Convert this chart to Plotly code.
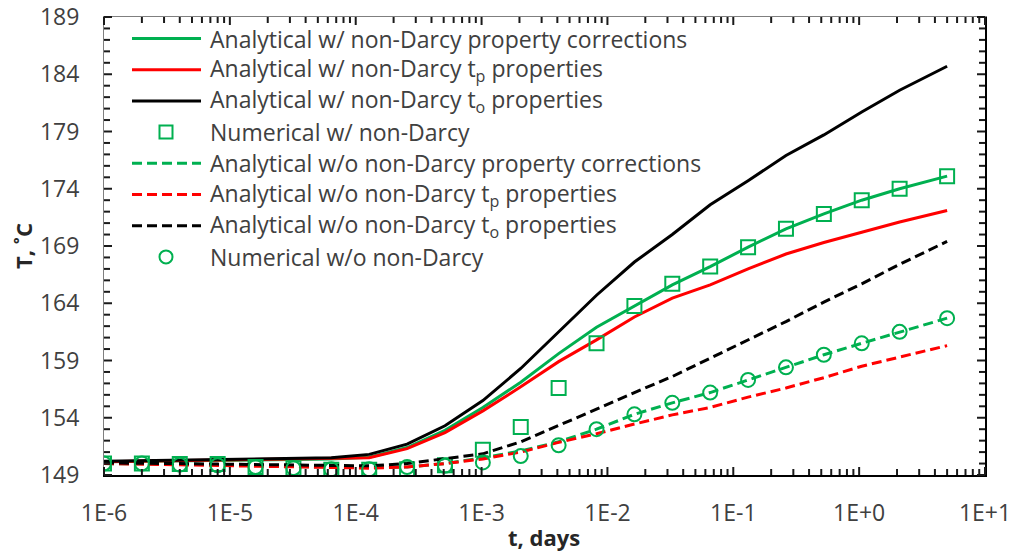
import math
import plotly.graph_objects as go

# Time (days) of each computed point
t_days = [1e-6, 2e-6, 4e-6, 8e-6, 1.6e-5, 3.2e-5, 6.4e-5, 1.28e-4, 2.56e-4, 5.12e-4,
          1.024e-3, 2.048e-3, 4.096e-3, 8.192e-3, 1.6384e-2, 3.2768e-2, 6.5536e-2,
          0.131072, 0.262144, 0.524288, 1.048576, 2.097152, 5.0]

# Temperature (deg C) with non-Darcy flow
T_nd_corr = [150.15, 150.2, 150.2, 150.25, 150.3, 150.35, 150.4, 150.55, 151.4, 152.9,
             154.9, 157.1, 159.6, 161.9, 163.75, 165.6, 167.2, 168.9, 170.5, 171.8,
             173.0, 174.0, 175.1]
T_nd_tp = [150.15, 150.2, 150.2, 150.25, 150.3, 150.35, 150.4, 150.5, 151.3, 152.7,
           154.6, 156.7, 158.9, 160.8, 162.8, 164.45, 165.6, 167.0, 168.3, 169.3,
           170.2, 171.1, 172.1]
T_nd_to = [150.2, 150.25, 150.25, 150.3, 150.35, 150.4, 150.5, 150.8, 151.7, 153.3,
           155.5, 158.3, 161.5, 164.7, 167.6, 170.0, 172.6, 174.7, 176.9, 178.7,
           180.7, 182.6, 184.7]
T_nd_num = [150.0, 150.0, 149.95, 149.95, 149.7, 149.6, 149.45, 149.45, 149.5, 149.85,
            151.2, 153.2, 156.6, 160.5, 163.75, 165.7, 167.2, 168.9, 170.5, 171.8,
            173.0, 174.0, 175.1]

# Temperature (deg C) without non-Darcy flow
T_d_corr = [150.0, 150.0, 149.95, 149.9, 149.8, 149.75, 149.7, 149.65, 149.7, 150.0,
            150.5, 151.1, 151.9, 153.0, 154.3, 155.3, 156.2, 157.3, 158.4, 159.5,
            160.5, 161.5, 162.7]
T_d_tp = [150.0, 149.95, 149.9, 149.85, 149.8, 149.7, 149.65, 149.6, 149.7, 150.0,
          150.4, 151.0, 151.85, 152.6, 153.45, 154.25, 154.9, 155.8, 156.6, 157.5,
          158.5, 159.3, 160.3]
T_d_to = [150.05, 150.05, 150.0, 149.95, 149.9, 149.85, 149.8, 149.8, 150.0, 150.4,
          150.85, 151.9, 153.3, 154.75, 156.2, 157.6, 159.2, 160.8, 162.4, 164.1,
          165.7, 167.4, 169.4]
T_d_num = [150.0, 150.0, 149.9, 149.85, 149.7, 149.6, 149.5, 149.5, 149.7, 149.8,
           150.1, 150.65, 151.6, 153.0, 154.3, 155.3, 156.2, 157.3, 158.4, 159.5,
           160.5, 161.5, 162.7]

x_tickvals = [1e-6, 1e-5, 1e-4, 1e-3, 1e-2, 1e-1, 1e0, 1e1]
x_ticktext = ["1E-6", "1E-5", "1E-4", "1E-3", "1E-2", "1E-1", "1E+0", "1E+1"]
y_tickvals = [149, 154, 159, 164, 169, 174, 179, 184, 189]

X_RANGE_LOG = [-6, 1]
Y_MIN, Y_MAX = 149, 189

GREEN = "#00B050"
RED = "#FF0000"
BLACK = "#000000"
TEXT = "#404040"
DASH = "10px,5px"
FONT = "Open Sans"
CLEAR = "rgba(0,0,0,0)"

series = [
    ("Analytical w/ non-Darcy property corrections", T_nd_corr, GREEN, "solid", None),
    ("Analytical w/ non-Darcy t<sub>p</sub> properties", T_nd_tp, RED, "solid", None),
    ("Analytical w/ non-Darcy t<sub>o</sub> properties", T_nd_to, BLACK, "solid", None),
    ("Numerical w/ non-Darcy", T_nd_num, GREEN, None, "square"),
    ("Analytical w/o non-Darcy property corrections", T_d_corr, GREEN, DASH, None),
    ("Analytical w/o non-Darcy t<sub>p</sub> properties", T_d_tp, RED, DASH, None),
    ("Analytical w/o non-Darcy t<sub>o</sub> properties", T_d_to, BLACK, DASH, None),
    ("Numerical w/o non-Darcy", T_d_num, GREEN, None, "circle"),
]

fig = go.Figure()

for name, y, color, dash, symbol in series:
    if symbol is None:
        fig.add_trace(go.Scatter(x=t_days, y=y, mode="lines", name=name,
                                 line=dict(color=color, width=3, dash=dash)))
    else:
        fig.add_trace(go.Scatter(x=t_days, y=y, mode="markers", name=name,
                                 marker=dict(symbol=symbol + "-open", size=14,
                                             color=color,
                                             line=dict(color=color, width=2))))

# Plot-area edges in pixels
W, H = 1012, 553
plot_l, plot_r, plot_t, plot_b = 104, 985, 17, 475
plot_w, plot_h = plot_r - plot_l, plot_b - plot_t


def px_x(p):
    return (p - plot_l) / plot_w


def px_y(p):
    return (plot_b - p) / plot_h


def log_frac(v):
    """Fraction of the plot width at which a time value sits on the log axis."""
    return (math.log10(v) - X_RANGE_LOG[0]) / (X_RANGE_LOG[1] - X_RANGE_LOG[0])


# Inward tick marks on all four sides of the frame
x_minor = [m * 10.0 ** e for e in range(-6, 1) for m in range(2, 10)]
y_minor = [v for v in range(Y_MIN + 1, Y_MAX) if v not in y_tickvals]
MAJOR, MINOR = 8, 6
TICK = dict(color="#1a1a1a", width=2)

for vals, length in [(x_tickvals, MAJOR), (x_minor, MINOR)]:
    for v in vals:
        xf = log_frac(v)
        fig.add_shape(type="line", xref="paper", yref="paper", x0=xf, x1=xf,
                      y0=0, y1=length / plot_h, line=TICK, layer="above")
        fig.add_shape(type="line", xref="paper", yref="paper", x0=xf, x1=xf,
                      y0=1, y1=1 - length / plot_h, line=TICK, layer="above")
for vals, length in [(y_tickvals, MAJOR), (y_minor, MINOR)]:
    for v in vals:
        yf = (v - Y_MIN) / (Y_MAX - Y_MIN)
        fig.add_shape(type="line", xref="paper", yref="paper", x0=0,
                      x1=length / plot_w, y0=yf, y1=yf, line=TICK, layer="above")
        fig.add_shape(type="line", xref="paper", yref="paper", x0=1,
                      x1=1 - length / plot_w, y0=yf, y1=yf, line=TICK, layer="above")

# Legend block in the upper-left corner, drawn as paper-space shapes and text
half = 6.5  # marker half-size in pixels
for i, (name, y, color, dash, symbol) in enumerate(series):
    row_px = 38.5 + 31.2 * i
    row = px_y(row_px)
    if symbol is None:
        fig.add_shape(type="line", xref="paper", yref="paper",
                      x0=px_x(132), x1=px_x(201), y0=row, y1=row,
                      line=dict(color=color, width=3, dash=dash))
    else:
        fig.add_shape(type="rect" if symbol == "square" else "circle",
                      xref="paper", yref="paper",
                      x0=px_x(166 - half), x1=px_x(166 + half),
                      y0=px_y(row_px + half), y1=px_y(row_px - half),
                      line=dict(color=color, width=2))
    fig.add_annotation(text=name, xref="paper", yref="paper", x=px_x(208), y=row,
                       xanchor="left", yanchor="middle", showarrow=False,
                       font=dict(family=FONT, size=23, color=TEXT))

# Axis titles
title_font = dict(family=FONT, size=22, color="#262626")
fig.add_annotation(text="<b>t, days</b>", xref="paper", yref="paper",
                   x=px_x(544), y=px_y(537), xanchor="center", yanchor="middle",
                   showarrow=False, font=title_font)
fig.add_annotation(text="<b>T, ˚C</b>", xref="paper", yref="paper",
                   x=px_x(23), y=px_y(246), xanchor="center", yanchor="middle",
                   textangle=-90, showarrow=False, font=title_font)

tickfont = dict(family=FONT, size=23, color=TEXT)

fig.update_layout(
    width=W, height=H,
    margin=dict(l=plot_l, r=W - plot_r, t=plot_t, b=H - plot_b),
    paper_bgcolor="white", plot_bgcolor="white",
    showlegend=False,
    font=dict(family=FONT, color=TEXT),
    # bottom axis: labels pushed out by clear outward ticks
    xaxis=dict(type="log", range=X_RANGE_LOG, tickmode="array", tickvals=x_tickvals,
               ticktext=x_ticktext, ticks="outside", ticklen=16, tickcolor=CLEAR,
               showline=True, linecolor="black", linewidth=2,
               showgrid=False, zeroline=False, tickfont=tickfont, automargin=False),
    xaxis2=dict(type="log", range=X_RANGE_LOG, overlaying="x", anchor="y", side="top",
                showticklabels=False, ticks="", showline=True, linecolor="#7f7f7f",
                linewidth=1, showgrid=False, zeroline=False, automargin=False),
    # left axis: labels pushed out by clear outward ticks
    yaxis=dict(range=[Y_MIN, Y_MAX], tickmode="array", tickvals=y_tickvals,
               ticks="outside", ticklen=19, tickcolor=CLEAR,
               showline=True, linecolor="#7f7f7f", linewidth=1, showgrid=False,
               zeroline=False, tickfont=tickfont, automargin=False),
    yaxis2=dict(range=[Y_MIN, Y_MAX], overlaying="y", anchor="x", side="right",
                showticklabels=False, ticks="", showline=True, linecolor="black",
                linewidth=2, showgrid=False, zeroline=False, automargin=False),
)

# invisible anchors so the top and right frame axes get drawn
for xa, ya in [("x2", "y"), ("x", "y2")]:
    fig.add_trace(go.Scatter(x=[t_days[0]], y=[T_nd_num[0]], xaxis=xa, yaxis=ya,
                             mode="markers", marker=dict(opacity=0),
                             hoverinfo="skip"))

fig.write_html("out.html")
